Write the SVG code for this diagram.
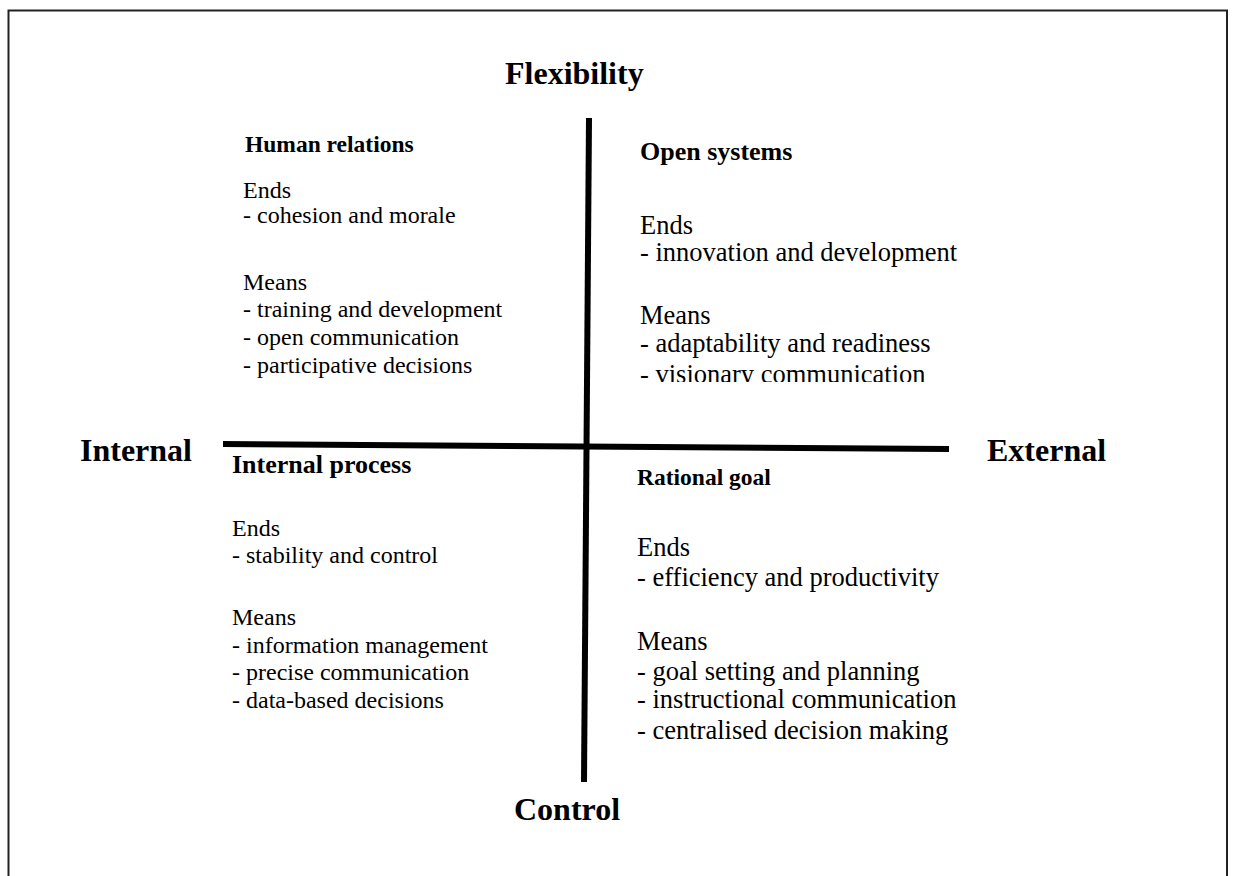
<svg xmlns="http://www.w3.org/2000/svg" width="1233" height="876" viewBox="0 0 1233 876">
  <style>
    text { font-family: "Liberation Serif", "Times New Roman", serif; fill: #000; }
    .axis { font-size: 32px; font-weight: bold; }
    .head { font-size: 26px; font-weight: bold; }
    .head-sm { font-size: 23.5px; font-weight: bold; }
    .body { font-size: 26.5px; }
    .body-l { font-size: 24px; }
    .bar { stroke: #000; stroke-width: 6; fill: none; }
  </style>
  <defs>
    <!-- text box of the upper right quadrant cuts its last line -->
    <clipPath id="open-box">
      <rect x="630" y="130" width="360" height="252"/>
    </clipPath>
  </defs>
  <rect width="1233" height="876" fill="#fff"/>
  <!-- outer frame -->
  <rect x="8.5" y="10.5" width="1218.5" height="880" fill="none" stroke="#222" stroke-width="2"/>

  <!-- axes -->
  <g id="connectors">
    <line class="bar" x1="589" y1="118" x2="584" y2="782"/>
    <line class="bar" x1="223" y1="444" x2="949" y2="449"/>
  </g>

  <!-- axis labels -->
  <g id="label-flexibility"><text class="axis" x="505" y="84">Flexibility</text></g>
  <g id="label-internal"><text class="axis" x="80" y="461">Internal</text></g>
  <g id="label-external"><text class="axis" x="987" y="461">External</text></g>
  <g id="label-control"><text class="axis" x="514" y="820">Control</text></g>

  <!-- quadrant: human relations -->
  <g id="human-relations">
    <text class="head-sm" x="245" y="152">Human relations</text>
    <text class="body-l" x="243" y="198">Ends</text>
    <text class="body-l" x="243" y="223">- cohesion and morale</text>
    <text class="body-l" x="243" y="290">Means</text>
    <text class="body-l" x="243" y="317">- training and development</text>
    <text class="body-l" x="243" y="345">- open communication</text>
    <text class="body-l" x="243" y="373">- participative decisions</text>
  </g>

  <!-- quadrant: open systems -->
  <g id="open-systems" clip-path="url(#open-box)">
    <text class="head" x="640" y="160">Open systems</text>
    <text class="body" x="640" y="234">Ends</text>
    <text class="body" x="640" y="261">- innovation and development</text>
    <text class="body" x="640" y="324">Means</text>
    <text class="body" x="640" y="352">- adaptability and readiness</text>
    <text class="body" x="640" y="383">- visionary communication</text>
  </g>

  <!-- quadrant: internal process -->
  <g id="internal-process">
    <text class="head" x="232" y="473">Internal process</text>
    <text class="body-l" x="232" y="536">Ends</text>
    <text class="body-l" x="232" y="563">- stability and control</text>
    <text class="body-l" x="232" y="625">Means</text>
    <text class="body-l" x="232" y="653">- information management</text>
    <text class="body-l" x="232" y="680">- precise communication</text>
    <text class="body-l" x="232" y="708">- data-based decisions</text>
  </g>

  <!-- quadrant: rational goal -->
  <g id="rational-goal">
    <text class="head-sm" x="637" y="485">Rational goal</text>
    <text class="body" x="637" y="556">Ends</text>
    <text class="body" x="637" y="586">- efficiency and productivity</text>
    <text class="body" x="637" y="650">Means</text>
    <text class="body" x="637" y="680">- goal setting and planning</text>
    <text class="body" x="637" y="708">- instructional communication</text>
    <text class="body" x="637" y="739">- centralised decision making</text>
  </g>
</svg>
